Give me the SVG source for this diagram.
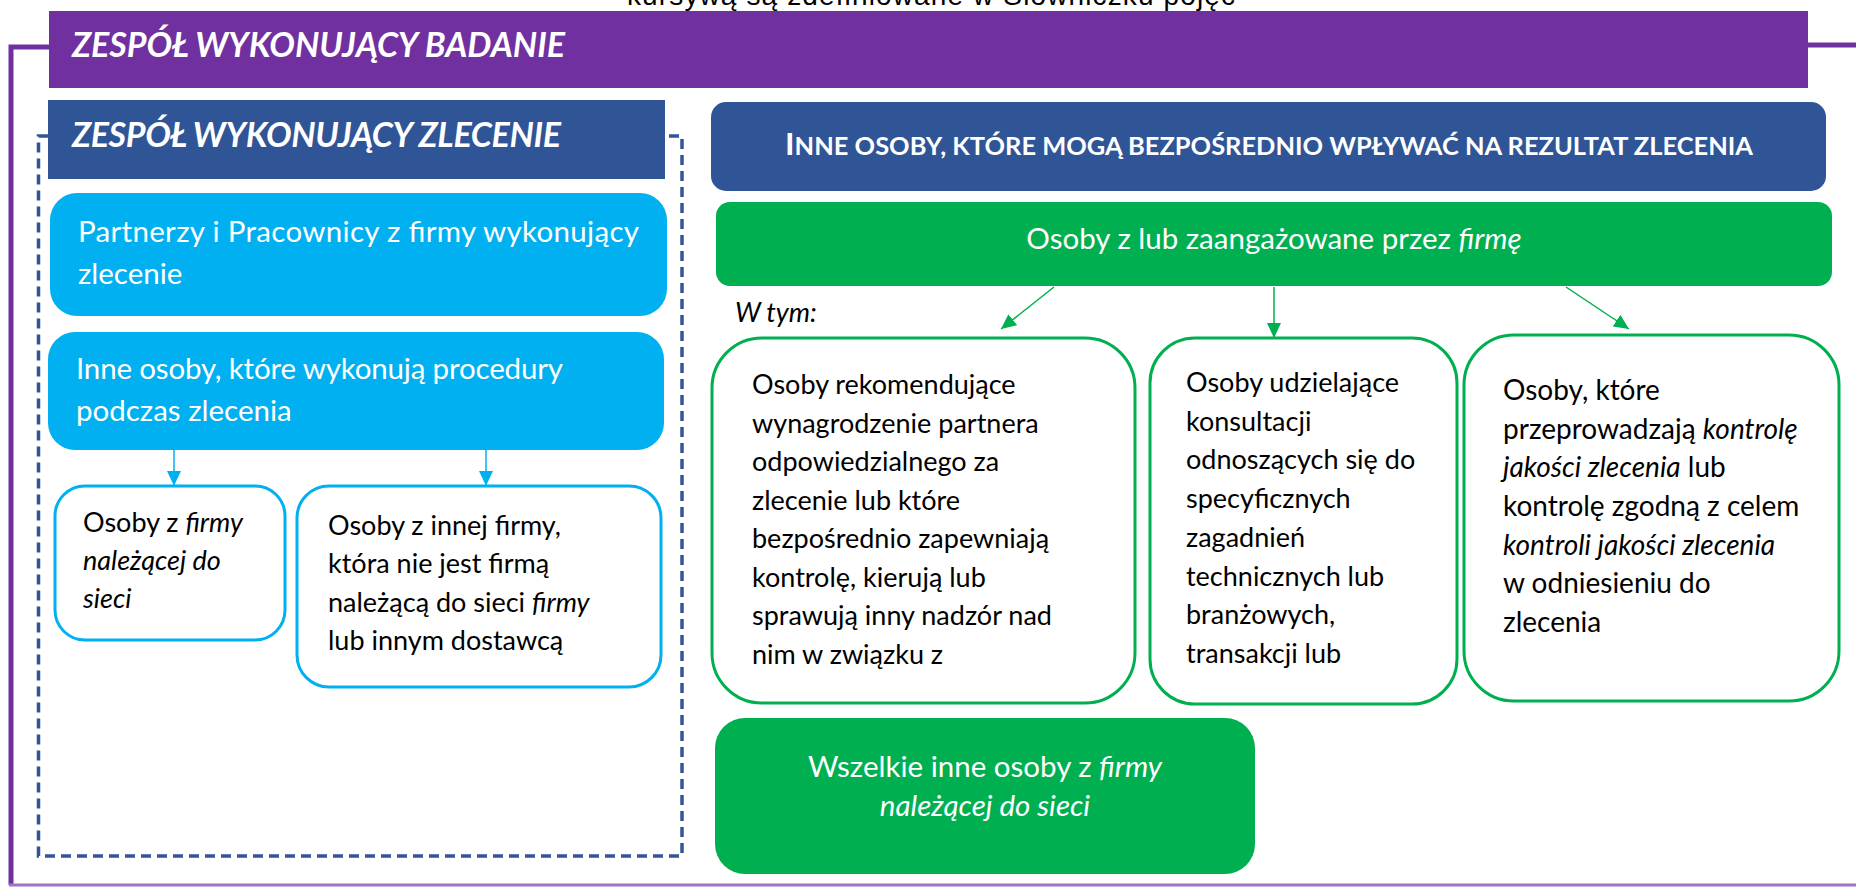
<svg xmlns="http://www.w3.org/2000/svg" width="1856" height="887" viewBox="0 0 1856 887">
<style>
  .f { font-family: Lato, "Open Sans", "Liberation Sans", sans-serif; }
  .w { fill: #FFFFFF; }
  .k { fill: #000000; }
  .hdr { font-weight: bold; font-style: italic; font-size: 34px; }
  .body { font-size: 27px; }
  .big { font-size: 29.5px; }
  .it { font-style: italic; }
  .gbox { fill: #FFFFFF; stroke: #00B050; stroke-width: 3; }
  .bbox { fill: #FFFFFF; stroke: #00B0F0; stroke-width: 3; }
  .lb { fill: #00B0F0; }
  .g { fill: #00B050; }
  .db { fill: #2F5597; }
</style>
<defs>
  <marker id="ab" markerUnits="userSpaceOnUse" markerWidth="16" markerHeight="14" refX="15" refY="7" orient="auto">
    <path d="M0,0 L15,7 L0,14 Z" fill="#00B0F0"/>
  </marker>
  <marker id="ag" markerUnits="userSpaceOnUse" markerWidth="16" markerHeight="14" refX="15" refY="7" orient="auto">
    <path d="M0,0 L15,7 L0,14 Z" fill="#00B050"/>
  </marker>
</defs>

<text x="627" y="5" font-family="'Liberation Sans', Arial, sans-serif" font-size="28" fill="#000" textLength="608">kursywą są zdefiniowane w Słowniczku pojęć</text>

<g id="connectors">
  <path d="M49 47 H11 V885" fill="none" stroke="#7030A0" stroke-width="5"/>
  <path d="M1808 45 H1856" fill="none" stroke="#7030A0" stroke-width="5"/>
  <path d="M9 885 H1856" fill="none" stroke="#9E72C9" stroke-width="3"/>
  <path d="M48 136 H38.5 V856 H682 V136 H665" fill="none" stroke="#2F5597" stroke-width="3.5" stroke-dasharray="10 6"/>
  <path d="M174 450 V486" stroke="#00B0F0" stroke-width="1.5" marker-end="url(#ab)"/>
  <path d="M486 450 V486" stroke="#00B0F0" stroke-width="1.5" marker-end="url(#ab)"/>
  <path d="M1054 287 L1001 329" stroke="#00B050" stroke-width="1.5" marker-end="url(#ag)"/>
  <path d="M1274 287 V338" stroke="#00B050" stroke-width="1.5" marker-end="url(#ag)"/>
  <path d="M1566 287 L1629 329" stroke="#00B050" stroke-width="1.5" marker-end="url(#ag)"/>
</g>

<g id="zespol-badanie">
  <rect x="49" y="11" width="1759" height="77" fill="#7030A0"/>
  <text x="72" y="57" class="f hdr w" textLength="493">ZESPÓŁ WYKONUJĄCY BADANIE</text>
</g>

<g id="zespol-zlecenie">
  <rect x="48" y="100" width="617" height="79" class="db"/>
  <text x="72" y="147" class="f hdr w" textLength="489">ZESPÓŁ WYKONUJĄCY ZLECENIE</text>
</g>

<g id="partnerzy">
  <rect x="50" y="193" width="617" height="123" rx="27" class="lb"/>
  <text class="f big w" x="78" y="242" textLength="561">Partnerzy i Pracownicy z firmy wykonujący</text>
  <text class="f big w" x="78" y="284">zlecenie</text>
</g>

<g id="inne-procedury">
  <rect x="48" y="332" width="616" height="118" rx="27" class="lb"/>
  <text class="f big w" x="76" y="379" textLength="487">Inne osoby, które wykonują procedury</text>
  <text class="f big w" x="76" y="421">podczas zlecenia</text>
</g>

<g id="osoby-sieci">
  <rect x="55" y="486" width="230" height="154" rx="30" class="bbox"/>
  <text class="f body k" x="83" y="532">Osoby z <tspan class="it">firmy</tspan></text>
  <text class="f body k it" x="83" y="570">należącej do</text>
  <text class="f body k it" x="83" y="608">sieci</text>
</g>

<g id="osoby-innej-firmy">
  <rect x="297" y="486" width="364" height="201" rx="32" class="bbox"/>
  <text class="f body k" x="328" y="535">Osoby z innej firmy,</text>
  <text class="f body k" x="328" y="573">która nie jest firmą</text>
  <text class="f body k" x="328" y="612">należącą do sieci <tspan class="it">firmy</tspan></text>
  <text class="f body k" x="328" y="650">lub innym dostawcą</text>
</g>

<g id="inne-osoby-wplyw">
  <rect x="711" y="102" width="1115" height="89" rx="15" class="db"/>
  <text class="f w" x="1269" y="155" text-anchor="middle" font-weight="bold" textLength="968" lengthAdjust="spacingAndGlyphs"><tspan font-size="31">I</tspan><tspan font-size="24.5">NNE OSOBY, KTÓRE MOGĄ BEZPOŚREDNIO WPŁYWAĆ NA REZULTAT ZLECENIA</tspan></text>
</g>

<g id="osoby-firma">
  <rect x="716" y="202" width="1116" height="84" rx="14" class="g"/>
  <text class="f big w" x="1274" y="249" text-anchor="middle">Osoby z lub zaangażowane przez <tspan class="it">firmę</tspan></text>
</g>

<text class="f body k it" x="735" y="322">W tym:</text>

<g id="rekomendujace">
  <rect x="712" y="338" width="423" height="365" rx="50" class="gbox"/>
  <text class="f body k" x="752" y="394">Osoby rekomendujące</text>
  <text class="f body k" x="752" y="432.5">wynagrodzenie partnera</text>
  <text class="f body k" x="752" y="471">odpowiedzialnego za</text>
  <text class="f body k" x="752" y="509.5">zlecenie lub które</text>
  <text class="f body k" x="752" y="548">bezpośrednio zapewniają</text>
  <text class="f body k" x="752" y="586.5">kontrolę, kierują lub</text>
  <text class="f body k" x="752" y="625">sprawują inny nadzór nad</text>
  <text class="f body k" x="752" y="663.5">nim w związku z</text>
</g>

<g id="konsultacje">
  <rect x="1150" y="338" width="307" height="366" rx="45" class="gbox"/>
  <text class="f body k" x="1186" y="392">Osoby udzielające</text>
  <text class="f body k" x="1186" y="430.7">konsultacji</text>
  <text class="f body k" x="1186" y="469.4">odnoszących się do</text>
  <text class="f body k" x="1186" y="508.1">specyficznych</text>
  <text class="f body k" x="1186" y="546.8">zagadnień</text>
  <text class="f body k" x="1186" y="585.5">technicznych lub</text>
  <text class="f body k" x="1186" y="624.2">branżowych,</text>
  <text class="f body k" x="1186" y="663">transakcji lub</text>
</g>

<g id="kontrola-jakosci">
  <rect x="1464" y="335" width="375" height="366" rx="50" class="gbox"/>
  <text class="f k" font-size="28" x="1503" y="400">Osoby, które</text>
  <text class="f k" font-size="28" x="1503" y="438.7">przeprowadzają <tspan class="it">kontrolę</tspan></text>
  <text class="f k" font-size="28" x="1503" y="477.3"><tspan class="it">jakości zlecenia</tspan> lub</text>
  <text class="f k" font-size="28" x="1503" y="516">kontrolę zgodną z celem</text>
  <text class="f k it" font-size="28" x="1503" y="554.7">kontroli jakości zlecenia</text>
  <text class="f k" font-size="28" x="1503" y="593.3">w odniesieniu do</text>
  <text class="f k" font-size="28" x="1503" y="632">zlecenia</text>
</g>

<g id="wszelkie-inne">
  <rect x="715" y="718" width="540" height="156" rx="30" class="g"/>
  <text class="f big w" x="985" y="777" text-anchor="middle">Wszelkie inne osoby z <tspan class="it">firmy</tspan></text>
  <text class="f big w it" x="985" y="816" text-anchor="middle">należącej do sieci</text>
</g>
</svg>
